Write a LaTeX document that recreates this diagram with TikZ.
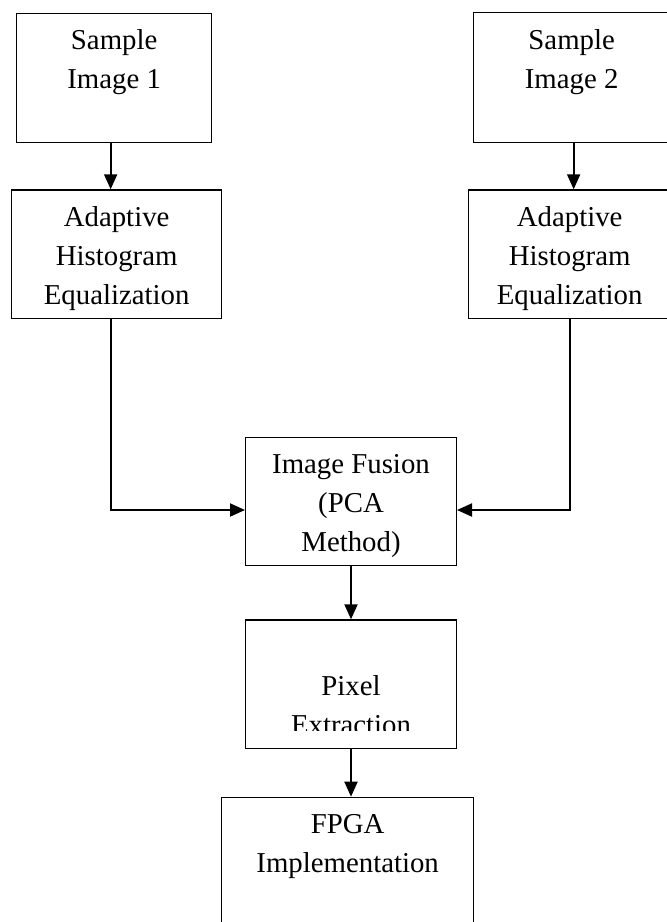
\documentclass[tikz,border=0pt]{standalone}
\usepackage{fontspec}
\setmainfont{Liberation Serif}
\usetikzlibrary{arrows.meta}
\tikzset{
  box/.style={draw=black, line width=1.3pt, rectangle, inner sep=0pt, anchor=north west},
  txt/.style={font=\fontsize{28.8}{39}\selectfont, align=center, inner sep=0pt, anchor=north},
  arr/.style={line width=1.9pt, -{Triangle[length=15pt,width=13pt]}}
}
\begin{document}
\begin{tikzpicture}[x=1pt,y=-1pt]
\clip (0,0) rectangle (667,922);
\fill[white] (0,0) rectangle (667,922);
% boxes
\node[box, minimum width=195pt, minimum height=129pt] (b1) at (16,12.7) {};
\node[box, minimum width=194pt, minimum height=129.5pt] (b2) at (473,12) {};
\node[box, minimum width=210pt, minimum height=128.7pt] (b3) at (11,189.3) {};
\node[box, minimum width=210pt, minimum height=128.7pt] (b4) at (467.7,189.3) {};
\node[box, minimum width=210.7pt, minimum height=128.3pt] (b5) at (245,436.7) {};
\node[box, minimum width=210.7pt, minimum height=128.4pt] (b6) at (245,619.3) {};
\node[box, minimum width=252pt, minimum height=150pt] (b7) at (221,796.7) {};
% texts
\node[txt] (t1) at ([yshift=-9.7pt]b1.north) {\strut Sample\\Image 1};
\node[txt] (t2) at ([xshift=1pt,yshift=-9.7pt]b2.north) {\strut Sample\\Image 2};
\node[txt] (t3) at ([yshift=-9.7pt]b3.north) {\strut Adaptive\\Histogram\\Equalization};
\node[txt] (t4) at ([xshift=-3.7pt,yshift=-9.7pt]b4.north) {\strut Adaptive\\Histogram\\Equalization};
\node[txt] (t5) at ([yshift=-9.7pt]b5.north) {\strut Image Fusion\\(PCA\\Method)};
\begin{scope}
  \clip (b6.north west) rectangle ([yshift=18.2pt]b6.south east);
  \node[txt] (t6) at ([yshift=-9.7pt]b6.north) {\strut\\Pixel\\Extraction};
\end{scope}
\node[txt] (t7) at ([yshift=-9.7pt]b7.north) {\strut FPGA\\Implementation};
% connectors
\draw[arr] ([xshift=-3.5pt]b1.south) -- ([xshift=-3.5pt]b1.south |- b3.north);
\draw[arr] ([xshift=3pt]b2.south) -- ([xshift=3pt]b2.south |- b4.north);
\draw[arr] ([xshift=-5.3pt]b3.south) |- ([yshift=-8.5pt]b5.west);
\draw[arr] ([xshift=-3.7pt]b4.south) |- ([yshift=-8.5pt]b5.east);
\draw[arr] (b5.south) -- (b6.north);
\draw[arr] (b6.south) -- (b6.south |- b7.north);
\end{tikzpicture}
\end{document}
